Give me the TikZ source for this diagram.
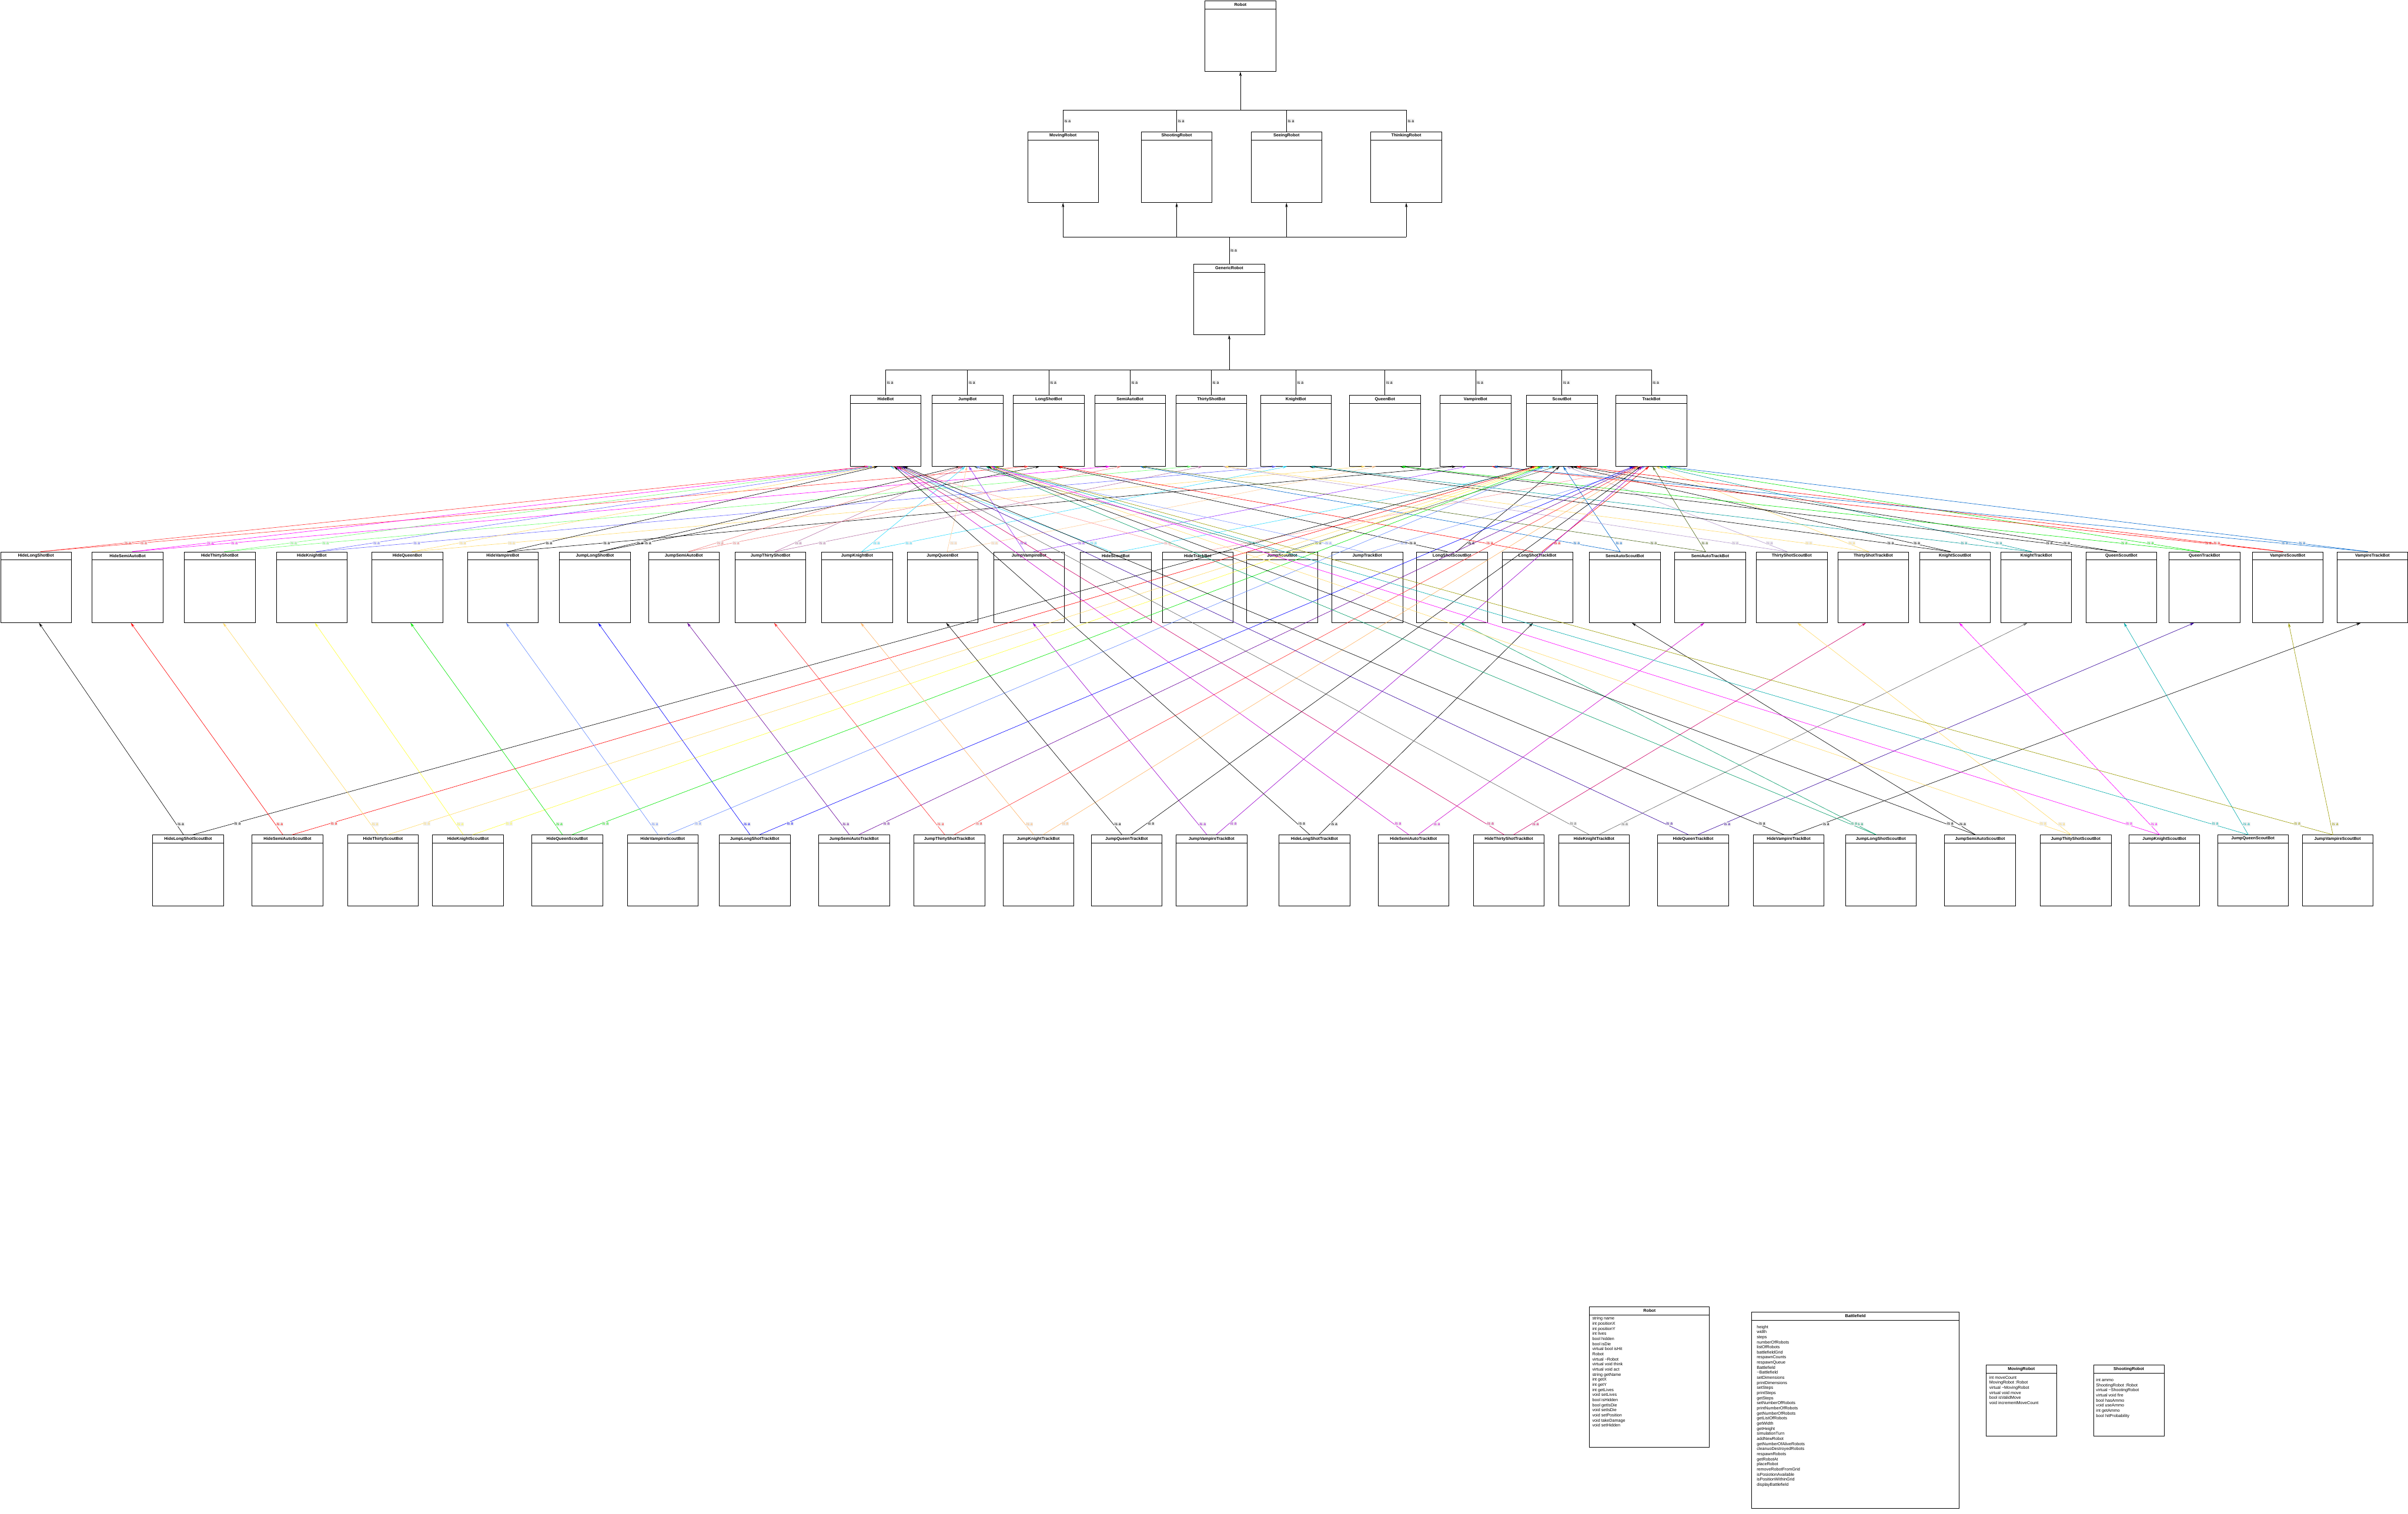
\documentclass[tikz,border=0pt]{standalone}
\usepackage{fontspec}
\setmainfont{Liberation Sans}
\usetikzlibrary{arrows.meta,calc}

\definecolor{isared}{RGB}{255, 51, 51}
\definecolor{isamagenta}{RGB}{255, 0, 255}
\definecolor{isalime}{RGB}{102, 255, 102}
\definecolor{isaperi}{RGB}{102, 102, 255}
\definecolor{isagold}{RGB}{255, 217, 102}
\definecolor{isasalmon}{RGB}{240, 128, 128}
\definecolor{isamauve}{RGB}{181, 115, 166}
\definecolor{isacyan}{RGB}{51, 221, 255}
\definecolor{isapeach}{RGB}{255, 204, 153}
\definecolor{isaviolet}{RGB}{153, 51, 255}
\definecolor{isapink}{RGB}{255, 153, 153}
\definecolor{isamoss}{RGB}{64, 96, 64}
\definecolor{isasky}{RGB}{128, 153, 255}
\definecolor{isadodger}{RGB}{0, 102, 204}
\definecolor{isaolive}{RGB}{77, 102, 26}
\definecolor{isalavender}{RGB}{179, 153, 204}
\definecolor{isateal}{RGB}{0, 153, 153}
\definecolor{isagreen}{RGB}{0, 230, 0}
\definecolor{isayellow}{RGB}{255, 255, 51}
\definecolor{isablue}{RGB}{0, 0, 255}
\definecolor{isapurple}{RGB}{102, 0, 153}
\definecolor{isaorange}{RGB}{255, 179, 102}
\definecolor{isaplum}{RGB}{153, 0, 204}
\definecolor{isaorchid}{RGB}{204, 0, 204}
\definecolor{isacrimson}{RGB}{204, 0, 102}
\definecolor{isagray}{RGB}{102, 102, 102}
\definecolor{isaindigo}{RGB}{51, 0, 153}
\definecolor{isajade}{RGB}{0, 153, 102}
\definecolor{isaaqua}{RGB}{0, 170, 170}
\definecolor{isakhaki}{RGB}{153, 153, 0}
\definecolor{isasoftblue}{RGB}{102, 140, 255}

\begin{document}
\begin{tikzpicture}[
  x=0.04337cm, y=-0.04337cm,
  cls/.style={draw, line width=0.35pt, anchor=north west, minimum width=2cm, minimum height=2cm, inner sep=0pt,
    path picture={\draw[line width=0.35pt] ([yshift=-0.23cm]path picture bounding box.north west) -- ([yshift=-0.23cm]path picture bounding box.north east);}},
  ttl/.style={font=\bfseries\fontsize{3.4}{4}\selectfont, anchor=center, yshift=-0.115cm, inner sep=0pt},
  members/.style={font=\fontsize{3.4}{4.09}\selectfont, align=left, anchor=north west, inner sep=0pt},
  isa/.style={line width=0.3pt, -{Stealth[length=3.6pt, width=2pt]}},
  bus/.style={line width=0.3pt},
  isalbl/.style={font=\fontsize{3.2}{3.6}\selectfont, fill=gray!12, inner sep=0.4pt, anchor=west, xshift=0.6pt},
]
\useasboundingbox (0,0) rectangle (1568,986);

% Base classes
\node[cls, label={[ttl]north:Robot}] (robot) at (784.5,0.3) {};
\node[cls, label={[ttl]north:MovingRobot}] (moving) at (669,85.7) {};
\node[cls, label={[ttl]north:ShootingRobot}] (shooting) at (743,85.7) {};
\node[cls, label={[ttl]north:SeeingRobot}] (seeing) at (814.5,85.7) {};
\node[cls, label={[ttl]north:ThinkingRobot}] (thinking) at (892.5,85.7) {};
\node[cls, label={[ttl]north:GenericRobot}] (generic) at (777.2,171.8) {};

% Single upgrade bots
\foreach \id/\name/\xx in {hide/HideBot/553.5, jump/JumpBot/606.8, longshot/LongShotBot/659.7,
    semiauto/SemiAutoBot/712.6, thirty/ThirtyShotBot/765.5, knight/KnightBot/820.6,
    queen/QueenBot/878.6, vampire/VampireBot/937.6, scout/ScoutBot/993.8, track/TrackBot/1052.1}
  \node[cls, label={[ttl]north:\name}] (\id) at (\xx,257.4) {};

% Two upgrade bots
\foreach \id/\name/\xx in {
    hidelongshot/HideLongShotBot/0.2, hidesemiauto/HideSemiAutoBot/59.9,
    hidethirty/HideThirtyShotBot/119.9, hideknight/HideKnightBot/179.8,
    hidequeen/HideQueenBot/242, hidevampire/HideVampireBot/304.2,
    jumplongshot/JumpLongShotBot/364.2, jumpsemiauto/JumpSemiAutoBot/422.1,
    jumpthirty/JumpThirtyShotBot/478.5, jumpknight/JumpKnightBot/534.9,
    jumpqueen/JumpQueenBot/590.5, jumpvampire/JumpVampireBot/646.9,
    hidescout/HideScoutBot/703.3, hidetrack/HideTrackBot/756.7,
    jumpscout/JumpScoutBot/811.7, jumptrack/JumpTrackBot/867.1,
    longshotscout/LongShotScoutBot/922.2, longshottrack/LongShotTrackBot/977.9,
    semiautoscout/SemiAutoScoutBot/1034.8, semiautotrack/SemiAutoTrackBot/1090.4,
    thirtyscout/ThirtyShotScoutBot/1143.5, thirtytrack/ThirtyShotTrackBot/1196.6,
    knightscout/KnightScoutBot/1249.8, knighttrack/KnightTrackBot/1302.7,
    queenscout/QueenScoutBot/1358.1, queentrack/QueenTrackBot/1412.2,
    vampirescout/VampireScoutBot/1466.4, vampiretrack/VampireTrackBot/1521.6}
  \node[cls, label={[ttl]north:\name}] (\id) at (\xx,359.3) {};

% Three upgrade bots
\foreach \id/\name/\xx in {
    hidelongshotscout/HideLongShotScoutBot/99.3, hidesemiautoscout/HideSemiAutoScoutBot/164,
    hidethirtyscout/HideThirtyScoutBot/226.2, hideknightscout/HideKnightScoutBot/281.5,
    hidequeenscout/HideQueenScoutBot/346.1, hidevampirescout/HideVampireScoutBot/408.3,
    jumplongshottrack/JumpLongShotTrackBot/468.2, jumpsemiautotrack/JumpSemiAutoTrackBot/532.9,
    jumpthirtytrack/JumpThirtyShotTrackBot/595, jumpknighttrack/JumpKnightTrackBot/652.9,
    jumpqueentrack/JumpQueenTrackBot/710.4, jumpvampiretrack/JumpVampireTrackBot/765.7,
    hidelongshottrack/HideLongShotTrackBot/832.7, hidesemiautotrack/HideSemiAutoTrackBot/897.2,
    hidethirtytrack/HideThirtyShotTrackBot/959.3, hideknighttrack/HideKnightTrackBot/1014.8,
    hidequeentrack/HideQueenTrackBot/1079.3, hidevampiretrack/HideVampireTrackBot/1141.5,
    jumplongshotscout/JumpLongShotScoutBot/1201.5, jumpsemiautoscout/JumpSemiAutoScoutBot/1266.1,
    jumpthirtyscout/JumpThityShotScoutBot/1328.4, jumpknightscout/JumpKnightScoutBot/1386.1,
    jumpqueenscout/JumpQueenScoutBot/1443.8, jumpvampirescout/JumpVampireScoutBot/1498.9}
  \node[cls, label={[ttl]north:\name}] (\id) at (\xx,543.7) {};

% Robot <- abilities
\coordinate (rbus) at ($(robot.south)+(0,25)$);
\draw[isa] (rbus) -- (robot.south);
\draw[bus] (moving.north |- rbus) -- (thinking.north |- rbus);
\foreach \q in {moving,shooting,seeing,thinking}
  \draw[bus] (\q.north) -- node[isalbl]{is a} (\q.north |- rbus);

% abilities <- GenericRobot
\coordinate (gbus) at ($(generic.north)+(0,-17.5)$);
\draw[bus] (generic.north) -- node[isalbl]{is a} (gbus);
\draw[bus] (moving.south |- gbus) -- (thinking.south |- gbus);
\foreach \q in {moving,shooting,seeing,thinking}
  \draw[isa] (\q.south |- gbus) -- (\q.south);

% GenericRobot <- single upgrades
\coordinate (hbus) at ($(generic.south)+(0,22.6)$);
\draw[isa] (hbus) -- (generic.south);
\draw[bus] (hide.north |- hbus) -- (track.north |- hbus);
\foreach \q in {hide,jump,longshot,semiauto,thirty,knight,queen,vampire,scout,track}
  \draw[bus] (\q.north) -- node[isalbl]{is a} (\q.north |- hbus);

% two upgrades -> both parents
\foreach \kid/\pa/\pb/\col in {
    hidelongshot/hide/longshot/isared, hidesemiauto/hide/semiauto/isamagenta,
    hidethirty/hide/thirty/isalime, hideknight/hide/knight/isaperi,
    hidequeen/hide/queen/isagold, hidevampire/hide/vampire/black,
    jumplongshot/jump/longshot/black, jumpsemiauto/jump/semiauto/isasalmon,
    jumpthirty/jump/thirty/isamauve, jumpknight/jump/knight/isacyan,
    jumpqueen/jump/queen/isapeach, jumpvampire/jump/vampire/isaviolet,
    hidescout/hide/scout/isacyan, hidetrack/hide/track/isapink,
    jumpscout/jump/scout/isamoss, jumptrack/jump/track/isasky,
    longshotscout/longshot/scout/black, longshottrack/longshot/track/red,
    semiautoscout/semiauto/scout/isadodger, semiautotrack/semiauto/track/isaolive,
    thirtyscout/thirty/scout/isalavender, thirtytrack/thirty/track/isagold,
    knightscout/knight/scout/black, knighttrack/knight/track/isateal,
    queenscout/queen/scout/black, queentrack/queen/track/isagreen,
    vampirescout/vampire/scout/red, vampiretrack/vampire/track/isadodger}{
  \foreach \q in {\pa,\pb}{
    \draw[isa, \col] let \p1=(\kid.north), \p2=(\q.south),
        \n1={max(-24,min(24,0.02*(\x1-\x2)))}, \n2={ifthenelse(\x2>\x1,3.7,-3.7)} in
      ([xshift=\n2]\kid.north) -- node[isalbl, pos=0.1]{is a} ([xshift=\n1]\q.south);
  }
}

% three upgrades -> two-upgrade parent and single-upgrade parent
\foreach \kid/\pa/\pb/\col in {
    hidelongshotscout/hidelongshot/scout/black, hidesemiautoscout/hidesemiauto/scout/red,
    hidethirtyscout/hidethirty/scout/isagold, hideknightscout/hideknight/scout/isayellow,
    hidequeenscout/hidequeen/scout/isagreen, hidevampirescout/hidevampire/scout/isasoftblue,
    jumplongshottrack/jumplongshot/track/isablue, jumpsemiautotrack/jumpsemiauto/track/isapurple,
    jumpthirtytrack/jumpthirty/track/isared, jumpknighttrack/jumpknight/track/isaorange,
    jumpqueentrack/jumpqueen/track/black, jumpvampiretrack/jumpvampire/track/isaplum,
    hidelongshottrack/longshottrack/hide/black, hidesemiautotrack/semiautotrack/hide/isaorchid,
    hidethirtytrack/thirtytrack/hide/isacrimson, hideknighttrack/knighttrack/hide/isagray,
    hidequeentrack/queentrack/hide/isaindigo, hidevampiretrack/vampiretrack/hide/black,
    jumplongshotscout/longshotscout/jump/isajade, jumpsemiautoscout/semiautoscout/jump/black,
    jumpthirtyscout/thirtyscout/jump/isagold, jumpknightscout/knightscout/jump/isamagenta,
    jumpqueenscout/queenscout/jump/isaaqua, jumpvampirescout/vampirescout/jump/isakhaki}{
  \foreach \q/\lp in {\pa/0.05,\pb/0.03}{
    \draw[isa, \col] let \p1=(\kid.north), \p2=(\q.south),
        \n1={max(-24,min(24,0.02*(\x1-\x2)))}, \n2={ifthenelse(\x2>\x1,3.7,-3.7)} in
      ([xshift=\n2]\kid.north) -- node[isalbl, pos=\lp]{is a} ([xshift=\n1]\q.south);
  }
}

% Class details
\node[cls, minimum width=3.387cm, minimum height=3.977cm, label={[ttl]north:Robot}] (robotinfo) at (1034.9,850.9) {};
\node[members] (robotattr) at ([xshift=0.078cm, yshift=-0.29cm]robotinfo.north west) {string name\\int positionX\\int positionY\\int lives\\bool hidden\\bool isDie\\virtual bool isHit\\Robot\\virtual \textasciitilde Robot\\virtual void think\\virtual void act\\string getName\\int getX\\int getY\\int getLives\\void setLives\\bool isHidden\\bool getIsDie\\void setIsDie\\void setPosition\\void takeDamage\\void setHidden};

\node[cls, minimum width=5.855cm, minimum height=5.55cm, label={[ttl]north:Battlefield}] (fieldinfo) at (1140.5,854.3) {};
\node[members] (fieldattr) at ([xshift=0.143cm, yshift=-0.377cm]fieldinfo.north west) {height\\width\\steps\\numberOfRobots\\listOfRobots\\battlefieldGrid\\respawnCounts\\respawnQueue\\Battlefield\\\textasciitilde Battlefield\\setDimensions\\printDimensions\\setSteps\\printSteps\\getSteps\\setNumberOfRobots\\printNumberOfRobots\\getNumberOfRobots\\getListOfRobots\\getWidth\\getHeight\\simulationTurn\\addNewRobot\\getNumberOfAliveRobots\\cleanuoDestroyedRobots\\respawnRobots\\getRobotAt\\placeRobot\\removeRobotFromGrid\\isPosiotionAvailable\\isPositionWithinGrid\\displayBattlefield};

\node[cls, label={[ttl]north:MovingRobot}] (movinginfo) at (1293,889) {};
\node[members] (movingattr) at ([xshift=0.095cm, yshift=-0.304cm]movinginfo.north west) {int moveCount\\MovingRobot :Robot\\virtual \textasciitilde MovingRobot\\virtual void move\\bool isValidMove\\void incrementMoveCount};

\node[cls, label={[ttl]north:ShootingRobot}] (shootinginfo) at (1363,889) {};
\node[members] (shootingattr) at ([xshift=0.074cm, yshift=-0.377cm]shootinginfo.north west) {int ammo\\ShootingRobot :Robot\\virtual \textasciitilde ShootingRobot\\virtual void fire\\bool hasAmmo\\void useAmmo\\int getAmmo\\bool hitProbability};
\end{tikzpicture}
\end{document}
